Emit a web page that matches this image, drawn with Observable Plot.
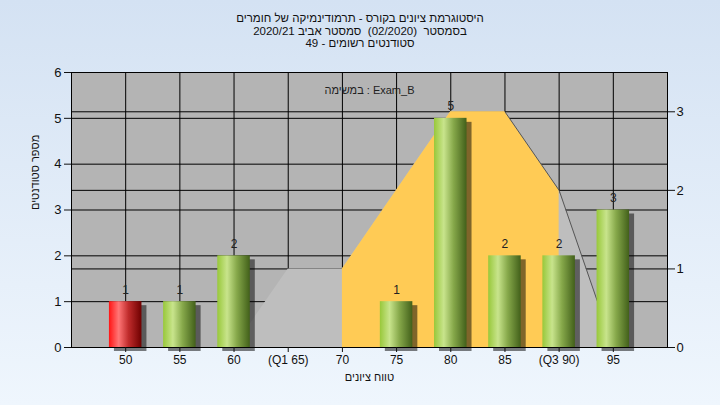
<!DOCTYPE html>
<html><head><meta charset="utf-8">
<script src="https://cdn.jsdelivr.net/npm/d3@7"></script>
<script src="https://cdn.jsdelivr.net/npm/@observablehq/plot@0.6"></script>
<style>
html,body{margin:0;padding:0;}
body{width:720px;height:405px;overflow:hidden;background:linear-gradient(#d4e2f3,#eff6fd);font-family:"Liberation Sans",Arial,sans-serif;}
#title{height:52px;box-sizing:border-box;padding-top:12px;text-align:center;font-size:11.5px;line-height:12.5px;color:#111;white-space:pre;}
#chart svg{display:block;}
</style></head><body>
<div id="title" dir="rtl"></div>
<div id="chart"></div>
<script>
const titleLines = ["היסטוגרמת ציונים בקורס - תרמודינמיקה של חומרים", "בסמסטר  (02/2020)  סמסטר אביב 2020/21", "סטודנטים רשומים - 49"];
const categories = ["50","55","60","(Q1 65)","70","75","80","85","(Q3 90)","95"];
const counts = [1,1,2,0,0,1,5,2,2,3];
const curveValues = [null,null,0,1,1,2,3,3,2,0]; // right-axis series
const leftTicks = [0,1,2,3,4,5,6];
const rightTicks = [0,1,2,3];
const rightMax = 3.5;
const examLabel = "במשימה : Exam_B";
const yLabel = "מספר סטודנטים";
const xLabel = "טווח ציונים";

document.getElementById("title").innerHTML = titleLines.map(t => `<div>${t}</div>`).join("");

const k = 6 / rightMax;
const rows = categories.map((c, i) => ({i, cat: c, count: counts[i], curve: curveValues[i]}));
const curveRows = rows.filter(d => d.curve != null).map(d => ({i: d.i, v: d.curve * k}));
const i70 = categories.indexOf("70"), iQ3 = categories.indexOf("(Q3 90)"), i85 = categories.indexOf("85");
const yellowRows = curveRows.filter(d => d.i >= i70 && d.i <= iQ3);
const tailRows = curveRows.filter(d => d.i >= i85);
const barRows = rows.filter(d => d.count > 0);
const bw = 0.3;

const svg = Plot.plot({
  width: 720, height: 353,
  marginTop: 20, marginBottom: 58, marginLeft: 71, marginRight: 53,
  style: {background: "transparent", fontFamily: "'Liberation Sans', Arial, sans-serif", fontSize: "12px", color: "#111"},
  x: {domain: [-1, categories.length], axis: null},
  y: {domain: [0, 6], axis: null},
  color: {type: "identity"},
  marks: [
    Plot.frame({fill: "#b4b4b4", stroke: null}),
    Plot.gridY(leftTicks.slice(1, -1), {stroke: "#000", strokeOpacity: 1}),
    Plot.gridY(rightTicks.slice(1).map(v => v * k), {stroke: "#000", strokeOpacity: 1}),
    Plot.gridX(rows.map(d => d.i), {stroke: "#000", strokeOpacity: 1}),
    Plot.areaY(curveRows, {x: "i", y: "v", fill: "#bebebe"}),
    Plot.areaY(yellowRows, {x: "i", y: "v", fill: "#ffcb55"}),
    Plot.lineY(tailRows, {x: "i", y: "v", stroke: "#555", strokeWidth: 1}),
    Plot.rectY(barRows, {x1: d => d.i - bw, x2: d => d.i + bw, y: "count", fill: "#000", fillOpacity: 0.5, dx: 5, dy: 4, ariaLabel: "shadow"}),
    Plot.rectY(barRows, {x1: d => d.i - bw, x2: d => d.i + bw, y: "count", fill: d => d.i === 0 ? "url(#gRed)" : "url(#gGreen)"}),
    Plot.text(barRows, {x: "i", y: "count", text: d => String(d.count), dy: -12, fontSize: 12, fill: "#222"}),
    Plot.text([examLabel], {text: d => d, frameAnchor: "top", dy: 14, fontSize: 11, fill: "#222"}),
    Plot.frame({stroke: "#000"}),
    Plot.axisY(leftTicks, {anchor: "left", tickSize: 7, tickPadding: 3, fontSize: 13, label: null}),
    Plot.axisY(rightTicks.map(v => v * k), {anchor: "right", tickSize: 7, tickPadding: 2, fontSize: 13, tickFormat: d => String(Math.round(d / k)), label: null}),
    Plot.axisX(rows.map(d => d.i), {anchor: "bottom", tickSize: 5, tickPadding: 3, fontSize: 12, tickFormat: i => categories[i], label: null}),
    Plot.text([yLabel], {text: d => d, frameAnchor: "left", dx: -36, rotate: -90, fontSize: 11, fill: "#111"}),
    Plot.text([xLabel], {text: d => d, frameAnchor: "bottom", dy: 33, fontSize: 11, fill: "#111"})
  ]
});

const defs = d3.select(svg).insert("defs", ":first-child");
function grad(id, stops) {
  const g = defs.append("linearGradient").attr("id", id).attr("x1", 0).attr("x2", 1).attr("y1", 0).attr("y2", 0);
  stops.forEach(([o, c]) => g.append("stop").attr("offset", o).attr("stop-color", c));
}
grad("gGreen", [[0, "#98c83a"], [0.3, "#c8e48c"], [0.6, "#86a84a"], [1, "#42601a"]]);
grad("gRed", [[0, "#ff1414"], [0.3, "#ff7676"], [0.6, "#c02c2c"], [1, "#6e0000"]]);
defs.append("filter").attr("id", "blur").attr("x", "-50%").attr("y", "-50%").attr("width", "200%").attr("height", "200%")
  .append("feGaussianBlur").attr("stdDeviation", 2.5);
const sh = svg.querySelector('g[aria-label="shadow"]');
if (sh) sh.setAttribute("filter", "url(#blur)");

document.getElementById("chart").appendChild(svg);
</script>
</body></html>
